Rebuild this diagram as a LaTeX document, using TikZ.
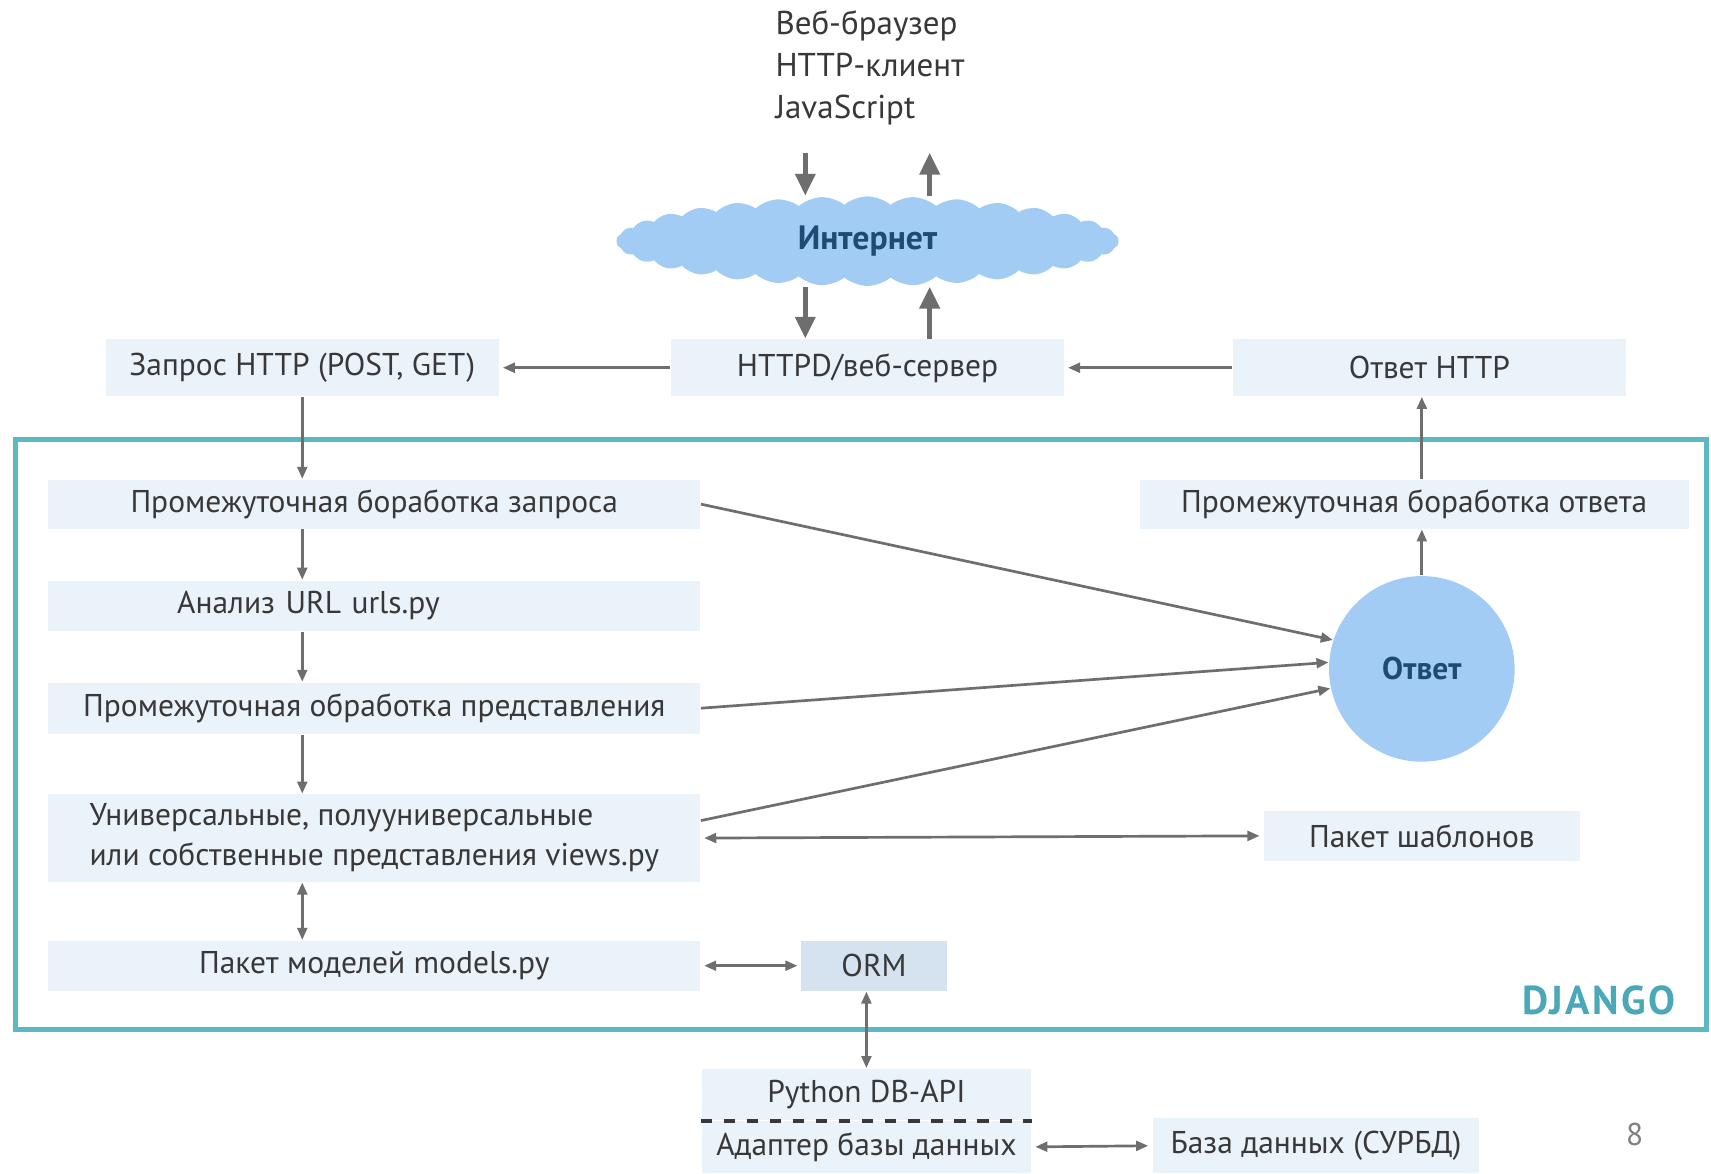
\documentclass[tikz,border=0pt]{standalone}
\usepackage{fontspec}
\setmainfont{PT Sans}
\usetikzlibrary{arrows.meta,shapes.symbols}

\definecolor{boxfill}{HTML}{EAF2FA}
\definecolor{ormfill}{HTML}{D5E3F0}
\definecolor{cloudblue}{HTML}{A2CCF4}
\definecolor{darkblue}{HTML}{1F4A73}
\definecolor{framecol}{HTML}{5BB9C2}
\definecolor{djangocol}{HTML}{4AA8B8}
\definecolor{arrowgray}{HTML}{6E6E6E}
\definecolor{txtgray}{HTML}{383838}

\begin{document}
\begin{tikzpicture}[x=0.01cm,y=-0.01cm,
  >={Triangle[length=1.1mm,width=0.9mm]},
  every node/.style={font=\fontsize{8.2}{10.5}\selectfont,text=txtgray},
  box/.style={fill=boxfill,inner sep=0pt,minimum height=0.46cm},
  conn/.style={draw=arrowgray,line width=0.7pt},
  bigconn/.style={draw=arrowgray,line width=1.3pt,-{Triangle[length=2mm,width=1.8mm]}}]
\useasboundingbox (0,0) rectangle (1568,1075);
\fill[white] (0,0) rectangle (1568,1075);

% client and internet
\node[anchor=north west,align=left,inner sep=0pt,font=\fontsize{8.6}{11}\selectfont] (client) at (710,9) {Веб-браузер\\HTTP-клиент\\JavaScript};
\node[cloud,cloud puffs=34,cloud puff arc=80,aspect=5.6,minimum width=4.6cm,minimum height=0.82cm,
  fill=cloudblue,inner sep=0pt,font=\fontsize{8.8}{10}\selectfont\bfseries,text=darkblue] (inet) at (795,221) {Интернет};
\coordinate (din) at (738,140);
\coordinate (uin) at (852,140);

% server row
\node[box,minimum width=3.6cm,minimum height=0.52cm] (zapros) at (277,337) {Запрос HTTP (POST, GET)};
\node[box,minimum width=3.6cm,minimum height=0.52cm] (httpd) at (795,337) {HTTPD/веб-сервер};
\node[box,minimum width=3.6cm,minimum height=0.52cm] (otvethttp) at (1310,337) {Ответ HTTP};

% django frame
\draw[framecol,line width=1.3pt] (14,403) rectangle (1564,943);
\node[anchor=east,inner sep=0pt,text=djangocol,font=\fontsize{10.5}{12}\selectfont\bfseries\addfontfeatures{LetterSpace=6}] (django) at (1536,917) {DJANGO};

\node[box,minimum width=5.97cm,minimum height=0.45cm] (mpreq) at (343,462) {Промежуточная боработка запроса};
\node[box,text width=5.97cm,align=left,minimum height=0.46cm] (url) at (343,555) {\hspace*{1.18cm}Анализ URL urls.py};
\node[box,minimum width=5.97cm,minimum height=0.47cm] (mpview) at (343,649) {Промежуточная обработка представления};
\node[box,align=left,minimum width=5.97cm,minimum height=0.8cm] (views) at (343,768) {Универсальные, полууниверсальные\\или собственные представления views.py};
\node[box,minimum width=5.97cm] (models) at (343,885) {Пакет моделей models.py};
\node[box,fill=ormfill,minimum width=1.33cm] (orm) at (801,885) {ORM};

\node[box,minimum width=5.03cm,minimum height=0.45cm] (mpresp) at (1296,462) {Промежуточная боработка ответа};
\node[circle,fill=cloudblue,minimum size=1.7cm,inner sep=0pt,font=\fontsize{8.2}{9}\selectfont\bfseries,text=darkblue] (otvet) at (1303,613) {Ответ};
\node[box,minimum width=2.9cm] (shablon) at (1303,766) {Пакет шаблонов};

% database
\node[box,minimum width=3.02cm,minimum height=0.47cm] (dbapi) at (794,1003) {Python DB-API};
\node[box,minimum width=3.02cm,minimum height=0.48cm] (adapter) at (794,1051) {Адаптер базы данных};
\draw[dashed,line width=1pt,draw=txtgray] (dbapi.south west) -- (dbapi.south east);
\node[box,minimum width=2.98cm,minimum height=0.5cm] (baza) at (1206,1050) {База данных (СУРБД)};
\node[text=gray] (page) at (1498,1040) {8};

% arrows
\draw[bigconn] (din) -- (din |- inet.north);
\draw[bigconn] (uin |- inet.north) -- (uin);
\draw[bigconn] (din |- inet.south) -- (din |- httpd.north);
\draw[bigconn] (uin |- httpd.north) -- (uin |- inet.south);
\draw[conn,->] (httpd.west) -- ([xshift=0.03cm]zapros.east);
\draw[conn,->] (otvethttp.west) -- ([xshift=0.03cm]httpd.east);
\draw[conn,->] (zapros.south) -- (zapros.south |- mpreq.north);
\draw[conn,->] (mpreq.south -| zapros) -- (url.north -| zapros);
\draw[conn,->] (url.south -| zapros) -- (mpview.north -| zapros);
\draw[conn,->] (mpview.south -| zapros) -- (views.north -| zapros);
\draw[conn,<->] (views.south -| zapros) -- (models.north -| zapros);
\draw[conn,<->] ([xshift=0.03cm]models.east) -- ([xshift=-0.03cm]orm.west);
\draw[conn,<->] (orm.south -| dbapi) -- (dbapi.north);
\draw[conn,<->] ([xshift=0.03cm]adapter.east) -- ([xshift=-0.04cm]baza.west);
\draw[conn,->] (mpreq.east) -- (otvet.162);
\draw[conn,->] (mpview.east) -- (otvet.176);
\draw[conn,->] ([yshift=0.16cm]views.east) -- (otvet.192);
\draw[conn,<->] ([xshift=0.03cm]views.east) -- ([xshift=-0.03cm]shablon.west);
\draw[conn,->] (otvet.north) -- (otvet.north |- mpresp.south);
\draw[conn,->] (otvet.north |- mpresp.north) -- (otvet.north |- otvethttp.south);
\end{tikzpicture}
\end{document}
